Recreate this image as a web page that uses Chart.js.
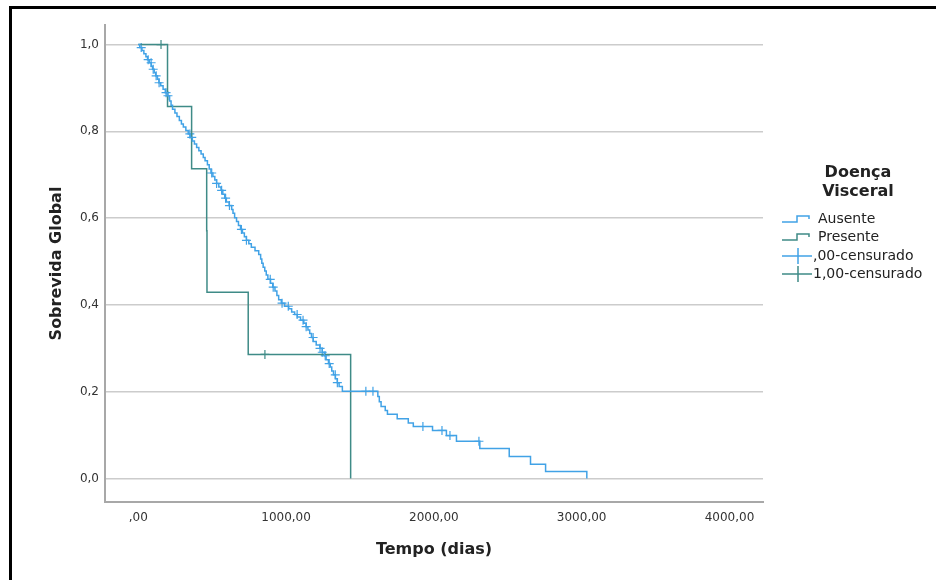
<!DOCTYPE html>
<html>
<head>
<meta charset="utf-8">
<script src="https://cdn.jsdelivr.net/npm/chart.js@4.4.1/dist/chart.umd.min.js"></script>
<style>
  html, body { margin: 0; padding: 0; background: #fff; }
  #wrap { width: 936px; height: 580px; position: relative; }
</style>
</head>
<body>
<div id="wrap"><canvas id="kmChart"></canvas></div>
<script>
// curva Kaplan-Meier, grupo Ausente (dias, sobrevida)
const ausenteDias = [0,10,25,38,52,63,75,88,97,108,118,130,140,152,168,183,197,212,222,232,
  248,262,278,292,305,322,338,352,366,380,395,410,425,440,452,468,480,492,505,518,
  530,545,560,572,585,596,615,632,641,652,665,678,692,705,718,732,748,765,790,815,
  828,836,845,856,866,877,895,910,925,938,950,968,990,1018,1038,1058,1076,1098,1120,1136,
  1148,1160,1172,1184,1204,1229,1245,1259,1271,1287,1299,1309,1321,1334,1347,1359,1381,1621,1631,1643,
  1671,1686,1752,1827,1861,1991,2085,2153,2311,2510,2654,2756,3035];
const ausenteSobrev = [1,.993,.986,.979,.972,.965,.958,.950,.943,.935,.928,.920,.912,.905,.897,.889,.882,.870,.860,.851,
  .842,.834,.825,.817,.810,.802,.794,.786,.778,.771,.763,.755,.748,.740,.732,.723,.713,.704,.696,.688,
  .680,.672,.664,.655,.646,.637,.629,.620,.611,.601,.592,.583,.574,.566,.557,.549,.541,.533,.525,.516,
  .506,.496,.487,.478,.469,.459,.450,.441,.432,.422,.412,.404,.397,.391,.384,.378,.372,.365,.358,.350,
  .342,.334,.325,.316,.308,.300,.291,.283,.274,.265,.257,.248,.239,.230,.221,.212,.201,.189,.177,.166,
  .157,.148,.138,.128,.120,.111,.099,.086,.069,.051,.033,.016,0];

// censurados do grupo Ausente
const ausenteCensDias = [20,67,87,101,121,141,188,201,349,362,497,530,564,591,617,698,732,893,913,973,
  1015,1075,1115,1136,1183,1230,1245,1265,1292,1333,1347,1540,1588,1926,2055,2109,2305];
const ausenteCensSobrev = [.993,.965,.958,.943,.928,.912,.889,.882,.794,.786,.704,.680,.664,.646,.629,.574,.549,.459,.441,.404,
  .397,.378,.365,.350,.325,.300,.291,.283,.265,.239,.221,.201,.201,.120,.111,.099,.086];

// grupo Presente
const presenteDias = [0,198,361,463,465,744,1437];
const presenteSobrev = [1,.857,.714,.571,.429,.286,0];
const presenteCensDias = [154,857];
const presenteCensSobrev = [1,.286];

const xTicks = [0,1000,2000,3000,4000];
const yTicks = [0,0.2,0.4,0.6,0.8,1.0];

const legendTitle = ['Doença', 'Visceral'];
const legendLabels = ['Ausente', 'Presente', ',00-censurado', '1,00-censurado'];

const corAusente = '#41a2e6';
const corPresente = '#3f8b87';

function pts(xs, ys) {
    return xs.map((x, i) => ({ x: x, y: ys[i] }));
}

Chart.defaults.font.family = "'DejaVu Sans', sans-serif";

// desenha moldura e legenda ao lado
const legendaPlugin = {
    id: 'legendaSpss',
    afterDraw(chart) {
        const ctx = chart.ctx;
        ctx.save();
        // moldura preta (topo e esquerda)
        ctx.fillStyle = '#000';
        ctx.fillRect(9, 6, 936, 3);
        ctx.fillRect(9, 6, 3, 580);

        ctx.fillStyle = '#222';
        ctx.textAlign = 'center';
        ctx.textBaseline = 'middle';
        ctx.font = "bold 16px 'DejaVu Sans'";
        ctx.fillText(legendTitle[0], 858, 173);
        ctx.fillText(legendTitle[1], 858, 192);

        const rows = [219, 237, 256, 274];
        const cores = [corAusente, corPresente, corAusente, corPresente];
        ctx.lineWidth = 1.5;
        rows.forEach((y, i) => {
            ctx.strokeStyle = cores[i];
            ctx.beginPath();
            if (i < 2) {
                ctx.moveTo(782, y + 3);
                ctx.lineTo(797, y + 3);
                ctx.lineTo(797, y - 3);
                ctx.lineTo(809, y - 3);
                ctx.lineTo(809, y);
            } else {
                ctx.moveTo(782, y);
                ctx.lineTo(812, y);
                ctx.moveTo(798, y - 8);
                ctx.lineTo(798, y + 8);
            }
            ctx.stroke();
            ctx.fillStyle = '#222';
            ctx.textAlign = 'left';
            ctx.font = "14px 'DejaVu Sans'";
            ctx.fillText(legendLabels[i], i < 2 ? 818 : 813, y);
        });
        ctx.restore();
    }
};

new Chart(document.getElementById('kmChart'), {
    type: 'scatter',
    data: {
        datasets: [
            {
                label: 'Ausente',
                data: pts(ausenteDias, ausenteSobrev),
                showLine: true,
                stepped: true,
                borderColor: corAusente,
                borderWidth: 1.5,
                pointRadius: 0
            },
            {
                label: 'Presente',
                data: pts(presenteDias, presenteSobrev),
                showLine: true,
                stepped: true,
                borderColor: corPresente,
                borderWidth: 1.5,
                pointRadius: 0
            },
            {
                label: ',00-censurado',
                data: pts(ausenteCensDias, ausenteCensSobrev),
                pointStyle: 'cross',
                pointRadius: 4.5,
                borderColor: corAusente,
                borderWidth: 1.2
            },
            {
                label: '1,00-censurado',
                data: pts(presenteCensDias, presenteCensSobrev),
                pointStyle: 'cross',
                pointRadius: 4.5,
                borderColor: corPresente,
                borderWidth: 1.2
            }
        ]
    },
    options: {
        responsive: true,
        maintainAspectRatio: false,
        animation: false,
        layout: { padding: { top: 25, right: 173, left: 0, bottom: 0 } },
        plugins: {
            legend: { display: false },
            tooltip: { enabled: false }
        },
        scales: {
            x: {
                type: 'linear',
                min: -225,
                max: 4227,
                afterBuildTicks: scale => { scale.ticks = xTicks.map(v => ({ value: v })); },
                afterFit: scale => { scale.height = 78; },
                grid: { display: false, drawTicks: false },
                border: { display: true, color: '#a8a8a8', width: 2 },
                ticks: {
                    padding: 9,
                    color: '#333',
                    font: { size: 12 },
                    maxRotation: 0,
                    callback: v => v === 0 ? ',00' : v.toFixed(2).replace('.', ',')
                },
                title: {
                    display: true,
                    text: 'Tempo (dias)',
                    color: '#222',
                    font: { size: 16, weight: 'bold' },
                    padding: { top: 0, bottom: 21 }
                }
            },
            y: {
                min: -0.054,
                max: 1.045,
                afterBuildTicks: scale => { scale.ticks = yTicks.map(v => ({ value: v })); },
                afterFit: scale => { scale.width = 105; },
                grid: { color: '#cccccc', lineWidth: 1.5, drawTicks: false },
                border: { display: true, color: '#a8a8a8', width: 2 },
                ticks: {
                    padding: 6,
                    color: '#333',
                    font: { size: 12 },
                    callback: v => v.toFixed(1).replace('.', ',')
                },
                title: {
                    display: true,
                    text: 'Sobrevida Global',
                    color: '#222',
                    font: { size: 16, weight: 'bold' },
                    padding: { top: 47, bottom: 0 }
                }
            }
        }
    },
    plugins: [legendaPlugin]
});
</script>
</body>
</html>
